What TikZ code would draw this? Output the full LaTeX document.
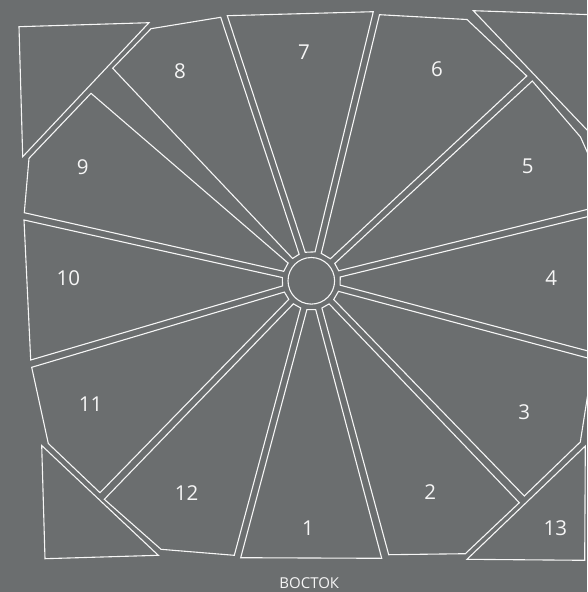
\documentclass[tikz,border=0pt]{standalone}
\usepackage{fontspec}
\setmainfont{Open Sans}
\usepackage{tikz}
\usetikzlibrary{calc}
\definecolor{plangray}{RGB}{107,110,111}
\definecolor{planline}{RGB}{246,246,246}
\tikzset{
  room/.style={draw=planline, line width=1.1pt, line join=miter},
  roomnum/.style={text=planline, font=\fontsize{20.5}{22}\selectfont,
    inner sep=0pt},
  sidetext/.style={text=planline, font=\fontsize{15}{17}\selectfont,
    inner sep=0pt},
}
\begin{document}
\begin{tikzpicture}[x=1pt, y=-1pt]
  % background
  \fill[plangray] (0,0) rectangle (587,592);
  \useasboundingbox (0,0) rectangle (587,592);

  % centre and the inner ends of the twelve rays
  \coordinate (C) at (311.3,280.8);
  \foreach \k/\a in {1/251.7, 2/283.7, 3/317.2, 4/346.2, 5/374.9,
      6/406.1, 7/435.0, 8/465.0, 9/494.2, 10/523.6, 11/552.7, 12/583.7} {
    \coordinate (r\k-) at ($(C)+(\a:29)+(\a-90:3.2)$);
    \coordinate (r\k+) at ($(C)+(\a:29)+(\a+90:3.2)$);
  }

  \begin{scope}
    \clip (0,0) rectangle (587,592);
    % hub
    \draw[room] (C) circle (23.3);

    % sectors, clockwise from the top
    \draw[room] (r1+) -- (227.3,15.7) -- (373.3,11.7) -- (r2-) -- cycle;
    \draw[room] (r2+) -- (379.5,14.7) -- (467,19.5) -- (526.8,76)
      -- (r3-) -- cycle;
    \draw[room] (r3+) -- (532.3,81) -- (580.5,137) -- (593,165)
      -- (593,208) -- (r4-) -- cycle;
    \draw[room] (r4+) -- (593,215.3) -- (593,352.3) -- (r5-) -- cycle;
    \draw[room] (r5+) -- (594,359.7) -- (590.5,377) -- (580.3,442)
      -- (524.3,496) -- (r6-) -- cycle;
    \draw[room] (r6+) -- (519.3,502.7) -- (465.3,553.7)
      -- (388.7,554.7) -- (r7-) -- cycle;
    \draw[room] (r7+) -- (381.7,558.3) -- (240.7,557.7) -- (r8-) -- cycle;
    \draw[room] (r8+) -- (234.3,555.3) -- (161,549.3) -- (104.3,499.3)
      -- (r9-) -- cycle;
    \draw[room] (r9+) -- (100,492.7) -- (48.3,443.5) -- (31.7,367.3)
      -- (r10-) -- cycle;
    \draw[room] (r10+) -- (30.7,360) -- (24,220) -- (r11-) -- cycle;
    \draw[room] (r11+) -- (24.3,212.7) -- (29,158.3) -- (91,93.3)
      -- (r12-) -- cycle;
    \draw[room] (r12+) -- (112.7,68.3) -- (151,28.7) -- (220.7,17.3)
      -- (r1-) -- cycle;

    % corner pieces
    \draw[room] (19,26.7) -- (149,22.7) -- (22.7,156.7) -- cycle;
    \draw[room] (473.3,10.7) -- (600,15) -- (600,143.6) -- cycle;
    \draw[room] (41.7,445.5) -- (158.3,555.3) -- (45,558.7) -- cycle;
    \draw[room] (585.3,446) -- (584.7,560.3) -- (467,559.3) -- cycle;
  \end{scope}

  % numbers
  \node[roomnum] (n1) at (308,528) {1};
  \node[roomnum] (n2) at (430.3,492) {2};
  \node[roomnum] (n3) at (524.3,412) {3};
  \node[roomnum] (n4) at (551.3,278.3) {4};
  \node[roomnum] (n5) at (527.7,166.7) {5};
  \node[roomnum] (n6) at (437,69) {6};
  \node[roomnum] (n7) at (304,51.7) {7};
  \node[roomnum] (n8) at (180,71) {8};
  \node[roomnum] (n9) at (82.7,166.7) {9};
  \node[roomnum] (n10) at (68.3,278.3) {10};
  \node[roomnum] (n11) at (90.7,403.7) {11};
  \node[roomnum] (n12) at (186.7,493) {12};
  \node[roomnum] (n13) at (555.3,528) {13};

  \node[sidetext] (east) at (309.3,583.5) {ВОСТОК};
\end{tikzpicture}
\end{document}
